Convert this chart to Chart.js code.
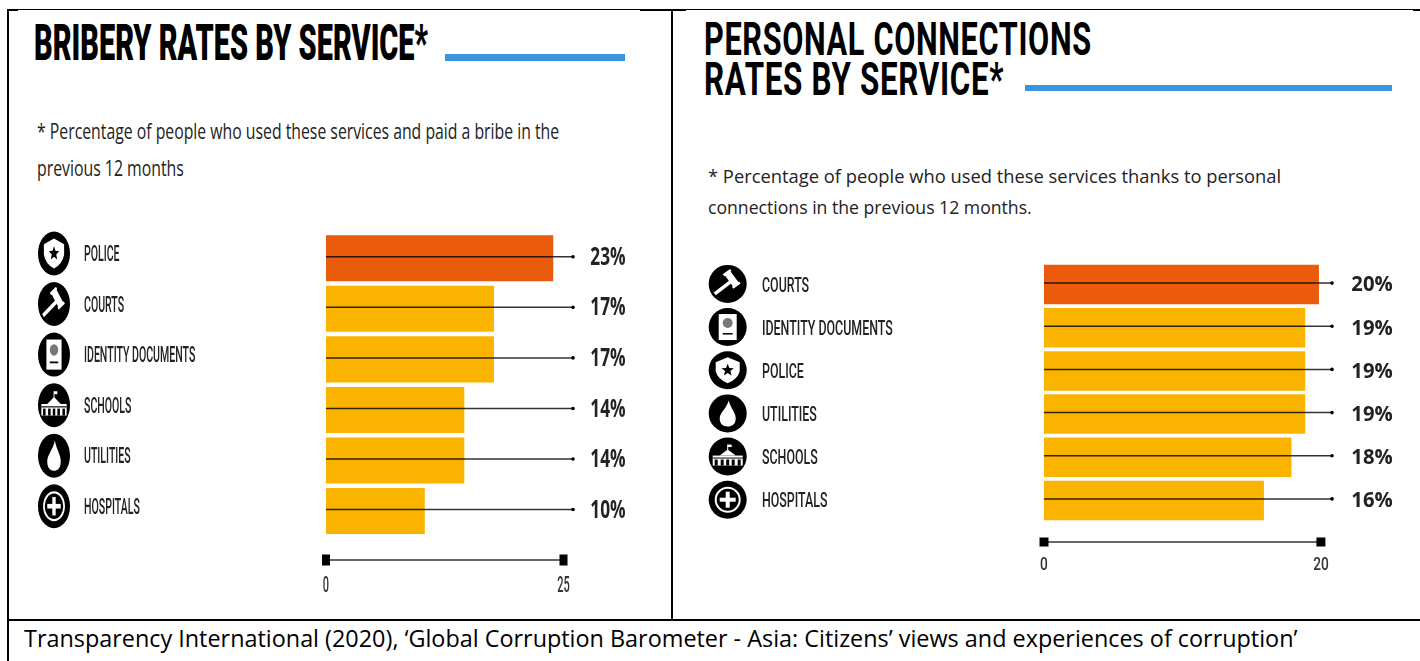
<!DOCTYPE html>
<html>
<head>
<meta charset="utf-8">
<script src="https://cdn.jsdelivr.net/npm/chart.js@4"></script>
<style>
html, body { margin: 0; background: #fff; }
#page { position: relative; width: 1420px; height: 661px; overflow: hidden; background: #fff; }
#page canvas { position: absolute; }
.txt { position: absolute; white-space: nowrap; transform-origin: 0 50%; line-height: 1; color: #1c1c1c; }
.title { font-family: Roboto, sans-serif; font-weight: 900; color: #000; }
.title2 { font-family: Roboto, sans-serif; font-weight: 700; color: #000; letter-spacing: 1px; }
.note { font-family: "Open Sans", sans-serif; color: #222; }
.foot { font-family: "Open Sans", sans-serif; color: #000; }
.rule { position: absolute; background: #3a96dc; }
.frame { position: absolute; background: #000; }
</style>
</head>
<body>
<div id="page">
  <canvas id="bribery"></canvas>
  <canvas id="connections"></canvas>
</div>
<script>
// data
const briberyServices = ['POLICE', 'COURTS', 'IDENTITY DOCUMENTS', 'SCHOOLS', 'UTILITIES', 'HOSPITALS'];
const briberyRates = [23, 17, 17, 14, 14, 10];
const briberyAxisTicks = [0, 25];

const connectionServices = ['COURTS', 'IDENTITY DOCUMENTS', 'POLICE', 'UTILITIES', 'SCHOOLS', 'HOSPITALS'];
const connectionRates = [20, 19, 19, 19, 18, 16];
const connectionAxisTicks = [0, 20];

const ORANGE = '#ea5b0c';
const AMBER = '#fab400';

const page = document.getElementById('page');

// text placed by left edge, vertical centre and target width
function addText(cls, text, x, cy, size, width) {
  const el = document.createElement('div');
  el.className = 'txt ' + cls;
  el.textContent = text;
  el.style.left = x + 'px';
  el.style.fontSize = size + 'px';
  page.appendChild(el);
  el.style.top = (cy - el.offsetHeight / 2) + 'px';
  el.style.transform = 'scaleX(' + (width / el.offsetWidth) + ')';
}

function addBox(cls, x, y, w, h) {
  const el = document.createElement('div');
  el.className = cls;
  el.style.cssText = 'left:' + x + 'px;top:' + y + 'px;width:' + w + 'px;height:' + h + 'px';
  page.appendChild(el);
}

addText('title', 'BRIBERY RATES BY SERVICE*', 34, 43, 50, 394);
addText('title2', 'PERSONAL CONNECTIONS', 704, 39, 46, 388);
addText('title2', 'RATES BY SERVICE*', 704, 79, 46, 300);
addBox('rule', 445, 54, 180, 7);
addBox('rule', 1025, 85, 367, 6);

addText('note', '* Percentage of people who used these services and paid a bribe in the', 37, 131, 21, 522);
addText('note', 'previous 12 months', 37, 168, 21, 147);
addText('note', '* Percentage of people who used these services thanks to personal', 708, 176, 18.5, 573);
addText('note', 'connections in the previous 12 months.', 708, 207, 18.5, 324);
addText('foot', 'Transparency International (2020), \u2018Global Corruption Barometer - Asia: Citizens\u2019 views and experiences of corruption\u2019', 24, 638, 23, 1274);

// frame of the table the two charts sit in
addBox('frame', 7, 9, 2, 652);
addBox('frame', 7, 9, 1413, 1);
addBox('frame', 7, 9, 11, 2);
addBox('frame', 640, 9, 46, 2);
addBox('frame', 1413, 9, 7, 2);
addBox('frame', 671, 9, 2, 610);
addBox('frame', 7, 619, 1413, 2);

// small white glyphs inside the round icons
function drawGlyph(ctx, name) {
  ctx.fillStyle = '#fff';
  ctx.strokeStyle = '#fff';
  ctx.lineCap = 'butt';
  if (name === 'POLICE') {
    ctx.beginPath();
    ctx.moveTo(0, -13); ctx.lineTo(12, -8); ctx.lineTo(12, 1);
    ctx.quadraticCurveTo(10, 9, 0, 13);
    ctx.quadraticCurveTo(-10, 9, -12, 1);
    ctx.lineTo(-12, -8); ctx.closePath(); ctx.fill();
    ctx.fillStyle = '#000';
    ctx.beginPath();
    for (let i = 0; i < 10; i++) {
      const r = i % 2 ? 2.8 : 6.5, a = -Math.PI / 2 + i * Math.PI / 5;
      ctx.lineTo(r * Math.cos(a), r * Math.sin(a));
    }
    ctx.closePath(); ctx.fill();
  } else if (name === 'COURTS') {
    ctx.lineWidth = 3.5;
    ctx.beginPath(); ctx.moveTo(-13, 10); ctx.lineTo(4, -3); ctx.stroke();
    ctx.save(); ctx.translate(4, -5); ctx.rotate(Math.PI * 0.3);
    ctx.fillRect(-7, -3.5, 14, 7);
    ctx.fillRect(-9, -4.5, 2.5, 9);
    ctx.fillRect(6.5, -4.5, 2.5, 9);
    ctx.restore();
  } else if (name === 'IDENTITY DOCUMENTS') {
    ctx.fillRect(-9, -13, 18, 26);
    ctx.fillStyle = '#777';
    ctx.beginPath(); ctx.arc(0, -4, 5, 0, Math.PI * 2); ctx.fill();
    ctx.fillStyle = '#000';
    ctx.fillRect(-5, 6, 10, 1.5);
  } else if (name === 'SCHOOLS') {
    ctx.fillRect(-15, -1, 30, 10);
    ctx.beginPath(); ctx.moveTo(-8, -1); ctx.lineTo(0, -7); ctx.lineTo(8, -1); ctx.fill();
    ctx.fillRect(-0.5, -12, 1, 6); ctx.fillRect(0, -12, 4, 2.5);
    ctx.fillStyle = '#000';
    ctx.fillRect(-15, 1, 30, 1);
    [-13, -7, -1.5, 4, 10].forEach(x => ctx.fillRect(x, 3, 3, 6));
  } else if (name === 'UTILITIES') {
    ctx.beginPath();
    ctx.moveTo(1, -13);
    ctx.bezierCurveTo(3, -5, 8, -1, 8, 5);
    ctx.bezierCurveTo(8, 11, 4, 13, 0, 13);
    ctx.bezierCurveTo(-5, 13, -8, 10, -8, 5);
    ctx.bezierCurveTo(-8, -1, -1, -5, 1, -13);
    ctx.fill();
  } else {
    ctx.lineWidth = 2;
    ctx.beginPath(); ctx.arc(0, 0, 12, 0, Math.PI * 2); ctx.stroke();
    ctx.fillRect(-8, -2, 16, 4);
    ctx.fillRect(-2, -8, 4, 16);
  }
}

// no condensed font is installed, so squeeze narrow text horizontally
function squeezedText(ctx, text, x, y, font, color, squeeze, align) {
  ctx.save();
  ctx.translate(x, y);
  ctx.scale(squeeze, 1);
  ctx.font = font;
  ctx.fillStyle = color;
  ctx.textAlign = align;
  ctx.textBaseline = 'middle';
  ctx.fillText(text, 0, 0);
  ctx.restore();
}

// lollipop lines, labels, icons and the 0-to-max axis bar
const overlay = {
  id: 'overlay',
  afterDatasetsDraw(chart, args, o) {
    const { ctx, chartArea } = chart;
    const y = chart.scales.y;
    const rates = chart.data.datasets[0].data;
    ctx.save();
    chart.data.labels.forEach((name, i) => {
      const row = y.getPixelForValue(i);
      const py = row + o.lineShift;
      ctx.strokeStyle = 'rgba(0,0,0,0.8)';
      ctx.lineWidth = 1.5;
      ctx.beginPath();
      ctx.moveTo(chartArea.left, py);
      ctx.lineTo(chartArea.right, py);
      ctx.stroke();
      ctx.fillStyle = '#000';
      ctx.beginPath();
      ctx.arc(chartArea.right, py, 1.8, 0, Math.PI * 2);
      ctx.fill();

      squeezedText(ctx, rates[i] + '%', o.valueX, py + o.valueShift,
        'bold ' + o.valueSize + 'px "Open Sans", sans-serif', '#222', o.valueSqueeze, 'center');
      squeezedText(ctx, y.getLabelForValue(i), y.left, row + o.labelShift,
        '500 ' + o.labelSize + 'px Roboto, sans-serif', '#222', o.labelSqueeze, 'left');

      // icon
      ctx.save();
      ctx.translate(o.iconX, py + o.iconShift);
      ctx.scale(o.iconRx / 19, o.iconRy / 19);
      ctx.fillStyle = '#000';
      ctx.beginPath();
      ctx.arc(0, 0, 19, 0, Math.PI * 2);
      ctx.fill();
      drawGlyph(ctx, name);
      ctx.restore();
    });

    // axis bar with square ends and its tick labels
    const ax = chart.scales.x2;
    const x0 = ax.getPixelForValue(ax.ticks[0].value);
    const x1 = ax.getPixelForValue(ax.ticks[ax.ticks.length - 1].value);
    ctx.strokeStyle = '#333';
    ctx.lineWidth = 1.5;
    ctx.beginPath();
    ctx.moveTo(x0, o.axisY);
    ctx.lineTo(x1, o.axisY);
    ctx.stroke();
    ctx.fillStyle = '#000';
    [x0, x1].forEach(x => ctx.fillRect(x - o.capW / 2, o.axisY - o.capH / 2, o.capW, o.capH));
    ax.ticks.forEach(t => {
      squeezedText(ctx, String(t.value), ax.getPixelForValue(t.value), o.tickY,
        '500 ' + o.tickSize + 'px Roboto, sans-serif', '#333', o.tickSqueeze, 'center');
    });
    ctx.restore();
  }
};

function makeChart(id, services, rates, axisTicks, g) {
  const canvas = document.getElementById(id);
  canvas.style.left = g.left + 'px';
  canvas.style.top = g.top + 'px';
  canvas.style.width = g.width + 'px';
  canvas.style.height = g.height + 'px';
  canvas.width = g.width;
  canvas.height = g.height;
  return new Chart(canvas, {
    type: 'bar',
    data: {
      labels: services,
      datasets: [{
        data: rates,
        backgroundColor: rates.map((r, i) => i === 0 ? ORANGE : AMBER),
        barPercentage: 1,
        categoryPercentage: g.barShare,
        xAxisID: 'x',
        yAxisID: 'y'
      }]
    },
    options: {
      indexAxis: 'y',
      responsive: false,
      animation: false,
      devicePixelRatio: 1,
      layout: { padding: { top: g.padTop, right: g.padRight, left: g.padLeft, bottom: 0 } },
      plugins: {
        legend: { display: false },
        tooltip: { enabled: false },
        overlay: g.overlay
      },
      scales: {
        x: {
          display: false,
          min: 0,
          max: g.barMax
        },
        // visible axis, carries the 0 and max ticks
        x2: {
          position: 'bottom',
          min: 0,
          max: g.axisMax,
          afterBuildTicks(scale) { scale.ticks = axisTicks.map(v => ({ value: v })); },
          afterFit(scale) { scale.height = g.axisHeight; },
          grid: { display: false },
          border: { display: false },
          ticks: { display: false }
        },
        y: {
          afterFit(scale) { scale.width = g.yWidth; },
          grid: { display: false },
          border: { display: false },
          ticks: { display: false }
        }
      }
    },
    plugins: [overlay]
  });
}

makeChart('bribery', briberyServices, briberyRates, briberyAxisTicks, {
  left: 30, top: 200, width: 614, height: 410,
  padTop: 33, padRight: 71, padLeft: 54,
  yWidth: 242, axisHeight: 73.7,
  barShare: 0.91, barMax: 25, axisMax: 25 * 247 / 237.5,
  overlay: {
    lineShift: -1.5, valueX: 578, valueShift: 1, valueSqueeze: 0.69, valueSize: 25,
    labelShift: -2.5, labelSize: 22, labelSqueeze: 0.48,
    iconX: 24, iconShift: -3.3, iconRx: 16, iconRy: 22,
    axisY: 360, capW: 8, capH: 11, tickY: 386.5, tickSize: 22, tickSqueeze: 0.5
  }
});

makeChart('connections', connectionServices, connectionRates, connectionAxisTicks, {
  left: 700, top: 240, width: 712, height: 345,
  padTop: 23, padRight: 80, padLeft: 62,
  yWidth: 282, axisHeight: 63,
  barShare: 0.915, barMax: 20.95, axisMax: 20.8,
  overlay: {
    lineShift: -1.5, valueX: 672, valueShift: 2, valueSqueeze: 0.92, valueSize: 22,
    labelShift: 2, labelSize: 20, labelSqueeze: 0.62,
    iconX: 27.7, iconShift: 0.8, iconRx: 19, iconRy: 19,
    axisY: 302, capW: 9, capH: 9, tickY: 325, tickSize: 19, tickSqueeze: 0.72
  }
});
</script>
</body>
</html>
